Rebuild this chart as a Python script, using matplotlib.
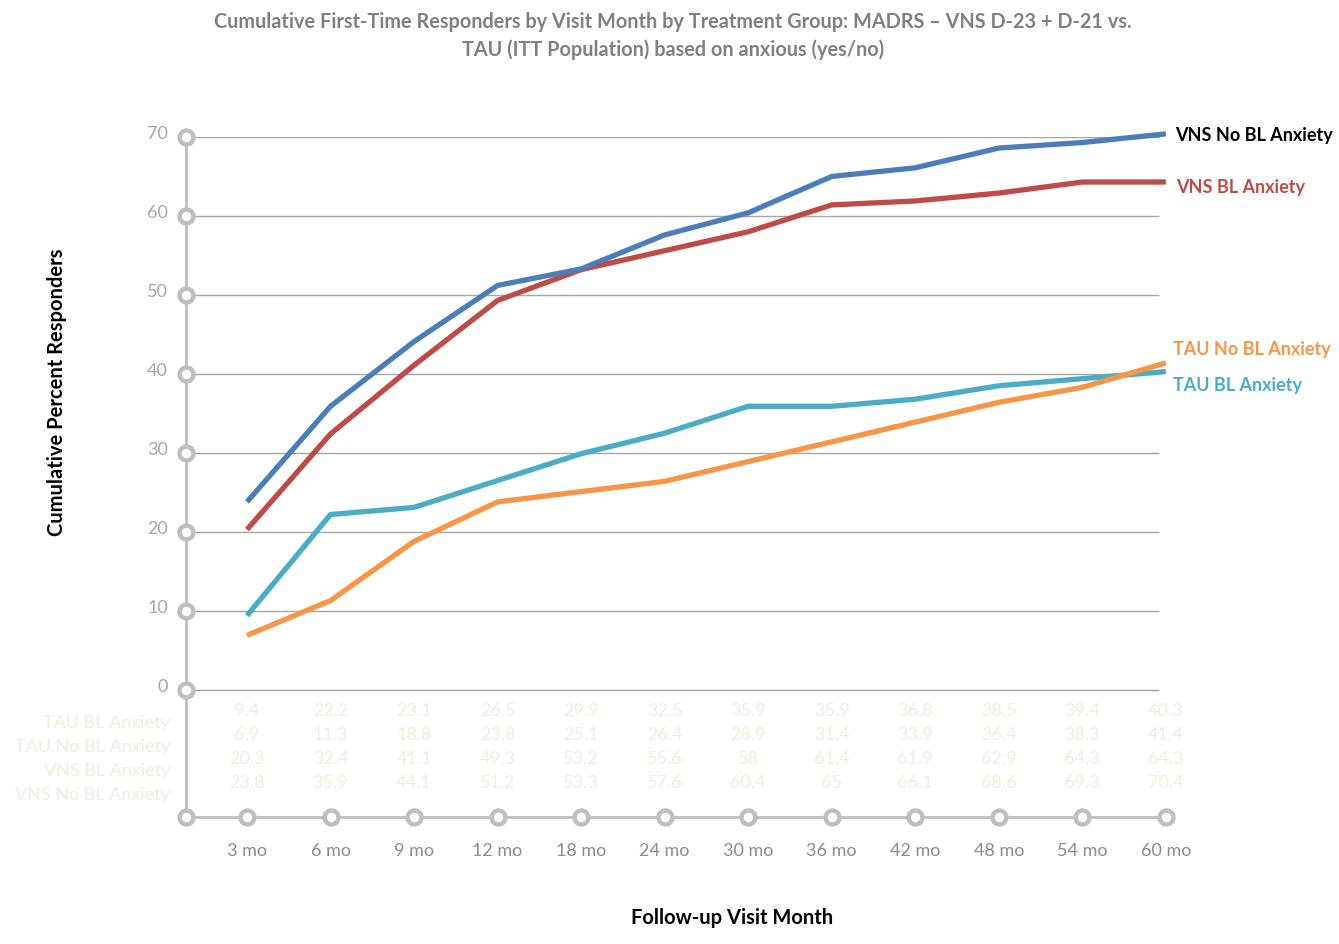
import matplotlib.pyplot as plt
from matplotlib.transforms import offset_copy, blended_transform_factory

plt.rcParams['font.family'] = ['Lato', 'DejaVu Sans']

months = ['3 mo', '6 mo', '9 mo', '12 mo', '18 mo', '24 mo',
          '30 mo', '36 mo', '42 mo', '48 mo', '54 mo', '60 mo']
tau_bl = [9.4, 22.2, 23.1, 26.5, 29.9, 32.5, 35.9, 35.9, 36.8, 38.5, 39.4, 40.3]
tau_no_bl = [6.9, 11.3, 18.8, 23.8, 25.1, 26.4, 28.9, 31.4, 33.9, 36.4, 38.3, 41.4]
vns_bl = [20.3, 32.4, 41.1, 49.3, 53.2, 55.6, 58, 61.4, 61.9, 62.9, 64.3, 64.3]
vns_no_bl = [23.8, 35.9, 44.1, 51.2, 53.3, 57.6, 60.4, 65, 66.1, 68.6, 69.3, 70.4]

series_names = ['TAU BL Anxiety', 'TAU No BL Anxiety', 'VNS BL Anxiety', 'VNS No BL Anxiety']
series_vals = [tau_bl, tau_no_bl, vns_bl, vns_no_bl]
series_colors = ['#4bacc6', '#f79646', '#be4b48', '#4a7ebb']
end_label_colors = ['#4bacc6', '#f79646', '#be4b48', '#000000']
yticks = [0, 10, 20, 30, 40, 50, 60, 70]

W, H = 1339, 944
fig = plt.figure(figsize=(W / 100, H / 100), dpi=100)
ax = fig.add_axes([186 / W, 1 - 817 / H, (1175 - 186) / W, (817 - 137) / H])

x = list(range(len(months)))
x_left, x_right = -0.73, 11.11
y_bot, y_top = -16.1, 70
ax.set_xlim(x_left, x_right)
ax.set_ylim(y_bot, y_top)
ax.axis('off')

axis_grey = '#bfbfbf'
pale = '#efeee2'

# horizontal gridlines
ax.hlines(yticks, x_left, 10.92, color='#a6a6a6', lw=1.0, zorder=1)

# y axis and bottom axis with hollow circle markers
ax.plot([x_left, x_left], [y_bot, y_top], color=axis_grey, lw=2, clip_on=False, zorder=2)
ax.plot([x_left, x[-1]], [y_bot, y_bot], color=axis_grey, lw=2, clip_on=False, zorder=2)
marker_style = dict(ls='none', marker='o', ms=10, mfc='white', mec=axis_grey, mew=3.2,
                    clip_on=False, zorder=6)
ax.plot([x_left] * (len(yticks) + 1), yticks + [y_bot], **marker_style)
ax.plot(x, [y_bot] * len(x), **marker_style)

# y tick labels
ylab_tr = offset_copy(ax.transData, fig=fig, x=-18, y=3, units='dots')
for v in yticks:
    ax.text(x_left, v, str(v), transform=ylab_tr, ha='right', va='center',
            fontsize=13, color='#a6a6a6')

# x tick labels
xlab_tr = offset_copy(ax.transData, fig=fig, x=0, y=-34, units='dots')
for xi, m in zip(x, months):
    ax.text(xi, y_bot, m, transform=xlab_tr, ha='center', va='center',
            fontsize=13, color='#8c8c8c')

# data table under the plot
table_tr = blended_transform_factory(ax.transData, fig.transFigure)
for r, (name, vals) in enumerate(zip(series_names, series_vals)):
    row_y = 1 - (711 + 24 * r) / H
    for xi, v in zip(x, vals):
        ax.text(xi, row_y, f'{v:g}', transform=table_tr, ha='center', va='center',
                fontsize=13, color=pale)
    fig.text(170 / W, 1 - (723 + 24 * r) / H, name, ha='right', va='center',
             fontsize=13, color=pale)

# series lines and end labels
for vals, c in zip(series_vals, series_colors):
    ax.plot(x, vals, color=c, lw=3.8, solid_capstyle='butt', clip_on=False, zorder=4)

end_label_pos = [(1173, 386), (1173, 350), (1176, 187), (1175, 136)]
for name, lc, (px, py) in zip(series_names, end_label_colors, end_label_pos):
    fig.text(px / W, 1 - py / H, name, ha='left', va='center', fontsize=13,
             fontweight='bold', color=lc)

fig.text(673 / W, 1 - 22 / H,
         'Cumulative First-Time Responders by Visit Month by Treatment Group: MADRS \u2013 VNS D-23 + D-21 vs.',
         ha='center', va='center', fontsize=14.3, fontweight='bold', color='#808080')
fig.text(673 / W, 1 - 50 / H, 'TAU (ITT Population) based on anxious (yes/no)',
         ha='center', va='center', fontsize=14.3, fontweight='bold', color='#808080')

fig.text(57 / W, 1 - 392 / H, 'Cumulative Percent Responders', rotation=90,
         ha='center', va='center', fontsize=14.5, fontweight='bold', color='black')
fig.text(732 / W, 1 - 918 / H, 'Follow-up Visit Month', ha='center', va='center',
         fontsize=14.5, fontweight='bold', color='black')

fig.savefig('out.png', dpi=100)
